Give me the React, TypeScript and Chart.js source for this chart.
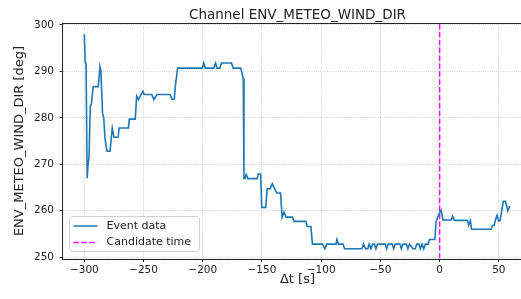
import React, { useEffect, useRef } from "react";
import { Chart, registerables } from "chart.js";

Chart.register(...registerables);

// ---- data ----
const timeS = [
  -300, -299.3, -298.5, -297.6, -296.8, -296, -295, -294, -292.5, -288.2,
  -286.8, -286, -284.6, -283.6, -282.6, -281.4, -280.8, -278.3, -276.4, -274.9,
  -271.5, -270.6, -262.8, -262, -257, -255.8, -254.2, -252.8, -250.5, -249.5,
  -243, -241.3, -238.7, -227.5, -226, -224, -223.1, -221.2, -200.3, -199.2,
  -197.8, -190.7, -189.2, -187.9, -185.6, -184.2, -175.7, -174.3, -168, -165.8,
  -165.2, -164.4, -163.3, -161.9, -154, -153.2, -151.1, -150.2, -146.9, -145.6,
  -143.2, -141.3, -139.2, -137.5, -134.3, -133, -131.4, -129.7, -124.3, -122.9,
  -113, -111.9, -108.7, -107.4, -98.9, -96.9, -95.3, -87.5, -86.7, -85.5,
  -81.5, -80.3, -65.5, -64.3, -62.5, -60.7, -59.5, -58, -56.5, -55,
  -53.8, -52.5, -46, -44.8, -43.5, -40, -38.8, -37.5, -33.5, -32.3,
  -31, -28, -26.8, -25.5, -22.5, -20.5, -19.3, -17.5, -16.3, -14.8,
  -13.5, -12, -9.8, -8.5, -4, -3, -1.7, 0, 1.3, 2.8,
  9.8, 11, 12.5, 23.5, 24.5, 26, 27, 43.5, 44.6, 46,
  47, 48.5, 49.8, 51, 53.8, 55.6, 57.6, 59.3,
];
const windDirDeg = [
  298, 292, 291.5, 267, 270, 271.5, 282.5, 283, 286.7, 286.7,
  291, 290, 281, 280, 275.7, 273.5, 272.8, 272.8, 277.8, 275.8,
  275.8, 277.8, 277.8, 279.7, 279.7, 284.7, 283.9, 284.7, 285.7, 285,
  285, 283.9, 285, 285, 284, 284, 286.9, 290.7, 290.7, 291.8,
  290.7, 290.7, 291.8, 290.7, 290.7, 291.8, 291.8, 290.7, 290.7, 288.5,
  266.9, 266.9, 267.8, 266.9, 266.9, 267.9, 267.9, 260.7, 260.7, 264.7,
  264.7, 265.8, 264.7, 263.8, 263.8, 258.6, 259.7, 258.6, 258.6, 257.7,
  257.7, 256.6, 256.6, 252.8, 252.8, 251.8, 252.8, 252.8, 253.8, 252.8,
  252.8, 251.8, 251.8, 252.8, 251.8, 251.8, 252.8, 251.8, 252.8, 252.8,
  251.8, 252.8, 252.8, 251.8, 252.8, 252.8, 251.8, 252.8, 252.8, 251.8,
  252.8, 252.8, 251.8, 252.8, 251.8, 251.8, 252.8, 252.8, 251.8, 252.8,
  251.8, 252.8, 252.8, 253.8, 253.8, 257.6, 258.5, 259.6, 260.1, 258,
  258, 258.8, 257.9, 257.9, 256.9, 257.9, 256, 256, 256.8, 256.8,
  257.9, 259, 257.8, 257.8, 262, 262, 260, 261,
];
const candidateTime = 0;
const xTickValues = [-300, -250, -200, -150, -100, -50, 0, 50];
const yTickValues = [250, 260, 270, 280, 290, 300];
const xRange = [-318, 78];
const yRange = [249.7, 300.3];
const titleText = "Channel ENV_METEO_WIND_DIR";
const xLabelText = "\u0394t [s]";
const yLabelText = "ENV_METEO_WIND_DIR [deg]";
const seriesNames = ["Event data", "Candidate time"];

const FONT = "'DejaVu Sans', sans-serif";
const BLUE = "#1f77b4";
const MAGENTA = "#ff00ff";
const TEXT = "#222222";
const DASH = [5.5, 2.4];

const fmt = (v: number) => String(v).replace("-", "\u2212");

export default function App() {
  const ref = useRef<HTMLCanvasElement>(null);

  useEffect(() => {
    const canvas = ref.current;
    if (!canvas) return;

    const decor = {
      id: "decor",
      afterDraw(chart: any) {
        const { ctx, chartArea: a } = chart;
        ctx.save();
        // frame
        ctx.strokeStyle = "#262626";
        ctx.lineWidth = 1;
        ctx.setLineDash([]);
        const l = Math.round(a.left) - 0.5;
        const t = Math.round(a.top) - 0.5;
        const r = Math.round(a.right) + 0.5;
        const b = Math.round(a.bottom) + 0.5;
        ctx.strokeRect(l, t, r - l, b - t);

        ctx.fillStyle = TEXT;
        // title
        ctx.font = `13.5px ${FONT}`;
        ctx.textAlign = "center";
        ctx.textBaseline = "alphabetic";
        ctx.fillText(titleText, (a.left + a.right) / 2, 19);
        // x label
        ctx.font = `13px ${FONT}`;
        ctx.textBaseline = "middle";
        ctx.fillText(xLabelText, (a.left + a.right) / 2, 280);
        // y label
        ctx.save();
        ctx.translate(20, (a.top + a.bottom) / 2);
        ctx.rotate(-Math.PI / 2);
        ctx.font = `13px ${FONT}`;
        ctx.textAlign = "center";
        ctx.textBaseline = "middle";
        ctx.fillText(yLabelText, 0, 0);
        ctx.restore();

        // legend
        const bx = 69.5, by = 216.5, bw = 130, bh = 35, rad = 3;
        ctx.beginPath();
        ctx.moveTo(bx + rad, by);
        ctx.lineTo(bx + bw - rad, by);
        ctx.arcTo(bx + bw, by, bx + bw, by + rad, rad);
        ctx.lineTo(bx + bw, by + bh - rad);
        ctx.arcTo(bx + bw, by + bh, bx + bw - rad, by + bh, rad);
        ctx.lineTo(bx + rad, by + bh);
        ctx.arcTo(bx, by + bh, bx, by + bh - rad, rad);
        ctx.lineTo(bx, by + rad);
        ctx.arcTo(bx, by, bx + rad, by, rad);
        ctx.closePath();
        ctx.fillStyle = "rgba(255,255,255,0.8)";
        ctx.fill();
        ctx.strokeStyle = "#d0d0d0";
        ctx.lineWidth = 1;
        ctx.stroke();

        const rows = [
          { y: 226, color: BLUE, dash: [] as number[] },
          { y: 242.5, color: MAGENTA, dash: DASH },
        ];
        rows.forEach((row, i) => {
          ctx.beginPath();
          ctx.setLineDash(row.dash);
          ctx.strokeStyle = row.color;
          ctx.lineWidth = 1.5;
          ctx.moveTo(73.5, row.y);
          ctx.lineTo(97.5, row.y);
          ctx.stroke();
          ctx.setLineDash([]);
          ctx.fillStyle = TEXT;
          ctx.font = `11px ${FONT}`;
          ctx.textAlign = "left";
          ctx.textBaseline = "middle";
          ctx.fillText(seriesNames[i], 106.5, row.y);
        });
        ctx.restore();
      },
    };

    const gridOpts = {
      color: "#b8b8b8",
      lineWidth: 0.8,
      drawTicks: true,
      tickLength: 3.5,
      tickColor: "#262626",
      tickWidth: 1,
      tickBorderDash: [],
    };

    const chart = new Chart(canvas, {
      type: "line",
      data: {
        datasets: [
          {
            label: seriesNames[0],
            data: timeS.map((t, i) => ({ x: t, y: windDirDeg[i] })),
            borderColor: BLUE,
            backgroundColor: BLUE,
            borderWidth: 1.6,
            pointRadius: 0,
            tension: 0,
            fill: false,
          },
          {
            label: seriesNames[1],
            data: [
              { x: candidateTime, y: yRange[0] },
              { x: candidateTime, y: yRange[1] },
            ],
            borderColor: MAGENTA,
            backgroundColor: MAGENTA,
            borderWidth: 1.5,
            borderDash: DASH,
            pointRadius: 0,
            fill: false,
          },
        ],
      },
      options: {
        animation: false,
        responsive: false,
        devicePixelRatio: 1,
        layout: { padding: { top: 23.5, right: 8, left: 0, bottom: 0 } },
        plugins: {
          legend: { display: false },
          title: { display: false },
          tooltip: { enabled: false },
        },
        scales: {
          x: {
            type: "linear",
            min: xRange[0],
            max: xRange[1],
            afterBuildTicks: (s: any) => {
              s.ticks = xTickValues.map((v) => ({ value: v }));
            },
            afterFit: (s: any) => {
              s.height = 40.5;
            },
            grid: gridOpts,
            border: { display: false, dash: [0.8, 1.4] },
            ticks: {
              autoSkip: false,
              maxRotation: 0,
              padding: 2,
              color: TEXT,
              font: { family: FONT, size: 10.5 },
              callback: (v: any) => fmt(v),
            },
          },
          y: {
            type: "linear",
            min: yRange[0],
            max: yRange[1],
            afterBuildTicks: (s: any) => {
              s.ticks = yTickValues.map((v) => ({ value: v }));
            },
            afterFit: (s: any) => {
              s.width = 63;
            },
            grid: gridOpts,
            border: { display: false, dash: [0.8, 1.4] },
            ticks: {
              autoSkip: false,
              padding: 5.5,
              color: TEXT,
              font: { family: FONT, size: 10.5 },
              callback: (v: any) => fmt(v),
            },
          },
        },
      } as any,
      plugins: [decor],
    });

    return () => chart.destroy();
  }, []);

  return (
    <div
      style={{
        position: "fixed",
        left: 0,
        top: 0,
        width: 521,
        height: 299,
        overflow: "hidden",
        background: "#ffffff",
      }}
    >
      <canvas
        ref={ref}
        width={540}
        height={299}
        style={{ width: 540, height: 299, display: "block" }}
      />
    </div>
  );
}
